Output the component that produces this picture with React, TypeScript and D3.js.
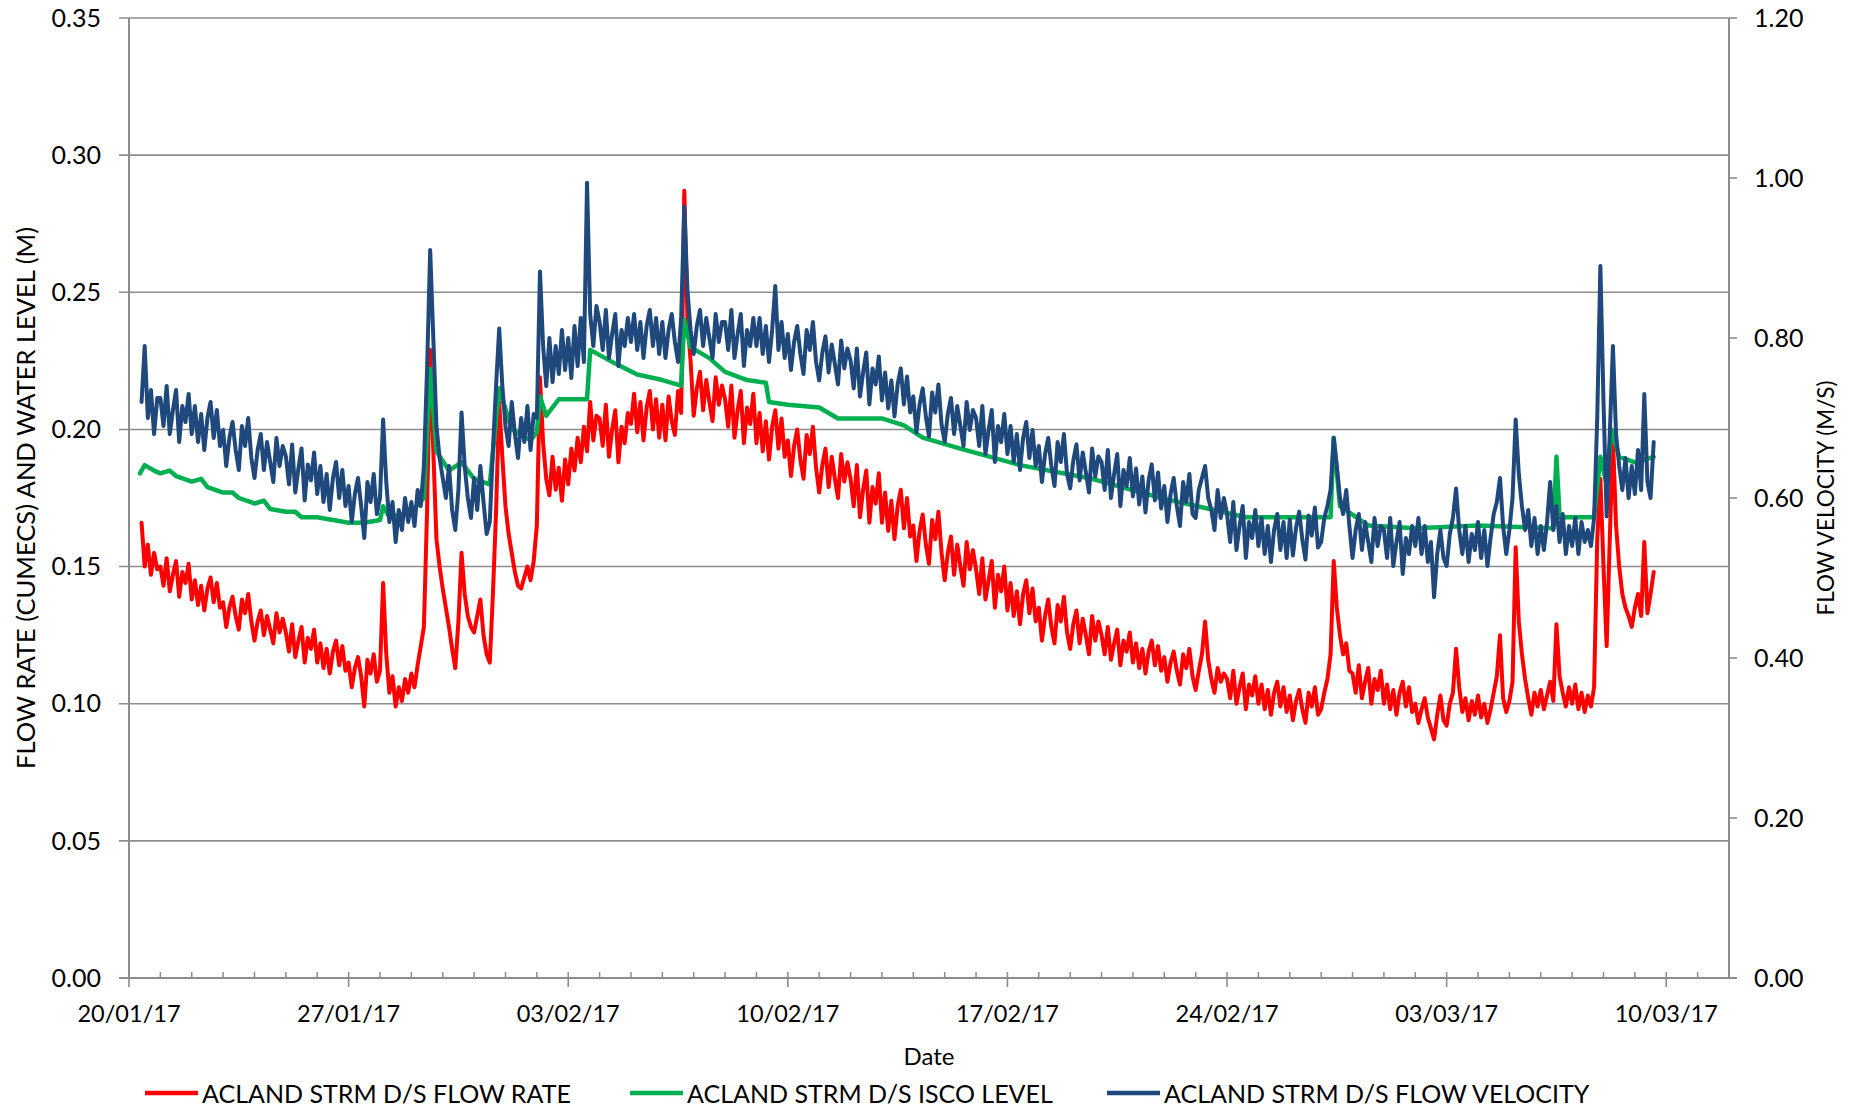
import React, { useEffect, useRef } from "react";
import * as d3 from "d3";

const width = 1853;
const height = 1108;
const DAY = 86400000;
const startDate = Date.UTC(2017, 0, 20);
const endDate = Date.UTC(2017, 2, 12);

const leftTicks = [0, 0.05, 0.1, 0.15, 0.2, 0.25, 0.3, 0.35];
const rightTicks = [0, 0.2, 0.4, 0.6, 0.8, 1.0, 1.2];
const majorTickDays = [0, 7, 14, 21, 28, 35, 42, 49];

const seriesNames = [
  "ACLAND STRM D/S FLOW RATE",
  "ACLAND STRM D/S ISCO LEVEL",
  "ACLAND STRM D/S FLOW VELOCITY",
];
const seriesColors = ["#ff0000", "#00b050", "#1f497d"];

// flow rate + velocity read every 0.1 day, first reading 0.4 day after 20/01/17
const sampleStart = 0.4;
const sampleStep = 0.1;

const flowRate = [
  0.166, 0.150, 0.158, 0.147, 0.155, 0.149,
  0.150, 0.143, 0.153, 0.141, 0.147, 0.152, 0.139, 0.148, 0.144, 0.151,
  0.138, 0.145, 0.136, 0.143, 0.134, 0.142, 0.146, 0.137, 0.144, 0.135,
  0.137, 0.128, 0.135, 0.139, 0.132, 0.127, 0.138, 0.133, 0.140, 0.130,
  0.123, 0.130, 0.134, 0.125, 0.132, 0.127, 0.122, 0.133, 0.126, 0.131,
  0.126, 0.119, 0.129, 0.117, 0.123, 0.128, 0.115, 0.124, 0.120, 0.127,
  0.115, 0.122, 0.113, 0.120, 0.111, 0.119, 0.123, 0.114, 0.121, 0.112,
  0.115, 0.106, 0.113, 0.117, 0.110, 0.099, 0.116, 0.111, 0.118, 0.108,
  0.112, 0.144, 0.118, 0.104, 0.110, 0.099, 0.106, 0.101, 0.109, 0.104,
  0.111, 0.106, 0.114, 0.121, 0.128, 0.170, 0.229, 0.192, 0.160, 0.150,
  0.142, 0.135, 0.128, 0.120, 0.113, 0.130, 0.155, 0.140, 0.132, 0.128,
  0.126, 0.132, 0.138, 0.125, 0.118, 0.115, 0.140, 0.170, 0.210, 0.190,
  0.172, 0.162, 0.155, 0.148, 0.143, 0.142, 0.146, 0.150, 0.145, 0.152,
  0.165, 0.219, 0.195, 0.182, 0.176, 0.190, 0.178, 0.186, 0.174, 0.189,
  0.180, 0.193, 0.185, 0.197, 0.188, 0.201, 0.192, 0.210, 0.196, 0.205,
  0.204, 0.194, 0.209, 0.190, 0.200, 0.207, 0.188, 0.201, 0.195, 0.206,
  0.202, 0.213, 0.199, 0.210, 0.196, 0.208, 0.214, 0.200, 0.211, 0.197,
  0.209, 0.196, 0.212, 0.203, 0.198, 0.214, 0.206, 0.287, 0.240, 0.225,
  0.205, 0.215, 0.221, 0.207, 0.218, 0.210, 0.203, 0.219, 0.209, 0.216,
  0.211, 0.201, 0.216, 0.197, 0.207, 0.214, 0.195, 0.208, 0.202, 0.213,
  0.195, 0.206, 0.192, 0.203, 0.189, 0.201, 0.207, 0.193, 0.204, 0.190,
  0.196, 0.183, 0.194, 0.200, 0.189, 0.182, 0.198, 0.191, 0.201, 0.186,
  0.177, 0.187, 0.193, 0.179, 0.190, 0.182, 0.175, 0.191, 0.181, 0.188,
  0.182, 0.172, 0.187, 0.168, 0.178, 0.185, 0.166, 0.179, 0.173, 0.184,
  0.166, 0.177, 0.163, 0.174, 0.160, 0.172, 0.178, 0.164, 0.175, 0.161,
  0.165, 0.152, 0.163, 0.169, 0.158, 0.151, 0.167, 0.160, 0.170, 0.155,
  0.145, 0.155, 0.161, 0.147, 0.158, 0.150, 0.143, 0.159, 0.149, 0.156,
  0.149, 0.140, 0.153, 0.138, 0.145, 0.152, 0.135, 0.147, 0.141, 0.150,
  0.134, 0.144, 0.132, 0.141, 0.129, 0.140, 0.145, 0.133, 0.142, 0.130,
  0.135, 0.123, 0.132, 0.138, 0.128, 0.122, 0.136, 0.130, 0.139, 0.126,
  0.120, 0.129, 0.134, 0.122, 0.131, 0.125, 0.118, 0.132, 0.123, 0.130,
  0.125, 0.118, 0.128, 0.116, 0.122, 0.127, 0.114, 0.123, 0.119, 0.126,
  0.115, 0.122, 0.113, 0.120, 0.111, 0.119, 0.123, 0.114, 0.121, 0.112,
  0.117, 0.108, 0.115, 0.119, 0.112, 0.107, 0.118, 0.113, 0.120, 0.110,
  0.105, 0.112, 0.118, 0.130, 0.116, 0.109, 0.104, 0.113, 0.108, 0.111,
  0.109, 0.102, 0.112, 0.100, 0.106, 0.111, 0.098, 0.107, 0.103, 0.110,
  0.100, 0.107, 0.098, 0.105, 0.096, 0.104, 0.108, 0.099, 0.106, 0.097,
  0.103, 0.094, 0.101, 0.105, 0.098, 0.093, 0.104, 0.099, 0.106, 0.096,
  0.098, 0.104, 0.109, 0.118, 0.152, 0.135, 0.125, 0.118, 0.122, 0.112,
  0.111, 0.104, 0.114, 0.102, 0.108, 0.113, 0.100, 0.109, 0.105, 0.112,
  0.100, 0.107, 0.098, 0.105, 0.096, 0.104, 0.108, 0.099, 0.106, 0.097,
  0.100, 0.093, 0.098, 0.102, 0.095, 0.091, 0.087, 0.096, 0.103, 0.094,
  0.092, 0.100, 0.104, 0.120, 0.106, 0.097, 0.102, 0.094, 0.101, 0.096,
  0.103, 0.095, 0.100, 0.093, 0.098, 0.104, 0.110, 0.125, 0.102, 0.097,
  0.101, 0.108, 0.157, 0.130, 0.118, 0.109, 0.102, 0.096, 0.104, 0.099,
  0.105, 0.098, 0.103, 0.108, 0.101, 0.129, 0.110, 0.104, 0.099, 0.106,
  0.100, 0.107, 0.098, 0.104, 0.097, 0.103, 0.099, 0.106, 0.160, 0.182,
  0.150, 0.121, 0.160, 0.197, 0.165, 0.150, 0.140, 0.135, 0.132, 0.128,
  0.135, 0.140, 0.132, 0.159, 0.133, 0.140, 0.148,
];

const flowVelocity = [
  0.720, 0.790, 0.700, 0.735, 0.680, 0.725,
  0.725, 0.690, 0.740, 0.680, 0.710, 0.735, 0.670, 0.715, 0.695, 0.730,
  0.680, 0.715, 0.670, 0.705, 0.660, 0.700, 0.720, 0.675, 0.710, 0.665,
  0.685, 0.640, 0.675, 0.695, 0.660, 0.635, 0.690, 0.665, 0.700, 0.650,
  0.625, 0.660, 0.680, 0.635, 0.670, 0.645, 0.620, 0.675, 0.640, 0.665,
  0.652, 0.617, 0.667, 0.607, 0.637, 0.662, 0.597, 0.642, 0.622, 0.657,
  0.605, 0.640, 0.595, 0.630, 0.585, 0.625, 0.645, 0.600, 0.635, 0.590,
  0.615, 0.570, 0.605, 0.625, 0.590, 0.550, 0.620, 0.595, 0.630, 0.580,
  0.600, 0.698, 0.620, 0.570, 0.595, 0.545, 0.585, 0.560, 0.600, 0.570,
  0.595, 0.565, 0.610, 0.590, 0.640, 0.760, 0.910, 0.800, 0.690, 0.650,
  0.625, 0.600, 0.640, 0.585, 0.560, 0.610, 0.707, 0.640, 0.600, 0.575,
  0.625, 0.585, 0.640, 0.595, 0.555, 0.570, 0.660, 0.740, 0.812, 0.740,
  0.690, 0.665, 0.720, 0.680, 0.650, 0.700, 0.670, 0.715, 0.660, 0.705,
  0.700, 0.883, 0.790, 0.740, 0.800, 0.745, 0.790, 0.755, 0.810, 0.760,
  0.800, 0.750, 0.815, 0.765, 0.825, 0.770, 0.994, 0.830, 0.790, 0.840,
  0.820, 0.785, 0.835, 0.775, 0.805, 0.830, 0.765, 0.810, 0.790, 0.825,
  0.795, 0.830, 0.785, 0.820, 0.775, 0.815, 0.835, 0.790, 0.825, 0.780,
  0.820, 0.775, 0.810, 0.830, 0.795, 0.770, 0.825, 0.964, 0.860, 0.810,
  0.780, 0.815, 0.835, 0.790, 0.825, 0.800, 0.775, 0.830, 0.795, 0.820,
  0.820, 0.785, 0.835, 0.775, 0.805, 0.830, 0.765, 0.810, 0.790, 0.825,
  0.790, 0.825, 0.780, 0.815, 0.770, 0.810, 0.865, 0.785, 0.820, 0.775,
  0.805, 0.760, 0.795, 0.815, 0.780, 0.755, 0.810, 0.785, 0.820, 0.770,
  0.747, 0.782, 0.802, 0.757, 0.792, 0.767, 0.742, 0.797, 0.762, 0.787,
  0.772, 0.737, 0.787, 0.727, 0.757, 0.782, 0.717, 0.762, 0.742, 0.777,
  0.722, 0.757, 0.712, 0.747, 0.702, 0.742, 0.762, 0.717, 0.752, 0.707,
  0.727, 0.682, 0.717, 0.737, 0.702, 0.677, 0.732, 0.707, 0.742, 0.692,
  0.670, 0.705, 0.725, 0.680, 0.715, 0.690, 0.665, 0.720, 0.685, 0.710,
  0.700, 0.665, 0.715, 0.655, 0.685, 0.710, 0.645, 0.690, 0.670, 0.705,
  0.655, 0.690, 0.645, 0.680, 0.635, 0.675, 0.695, 0.650, 0.685, 0.640,
  0.665, 0.620, 0.655, 0.675, 0.640, 0.615, 0.670, 0.645, 0.680, 0.630,
  0.612, 0.647, 0.667, 0.622, 0.657, 0.632, 0.607, 0.662, 0.627, 0.652,
  0.645, 0.610, 0.660, 0.600, 0.630, 0.655, 0.590, 0.635, 0.615, 0.650,
  0.602, 0.637, 0.592, 0.627, 0.582, 0.622, 0.642, 0.597, 0.632, 0.587,
  0.615, 0.570, 0.605, 0.625, 0.590, 0.565, 0.620, 0.595, 0.630, 0.580,
  0.575, 0.610, 0.625, 0.640, 0.600, 0.585, 0.560, 0.610, 0.575, 0.600,
  0.580, 0.545, 0.595, 0.535, 0.565, 0.590, 0.525, 0.570, 0.550, 0.585,
  0.540, 0.575, 0.530, 0.565, 0.520, 0.560, 0.580, 0.535, 0.570, 0.525,
  0.573, 0.528, 0.563, 0.583, 0.548, 0.523, 0.578, 0.553, 0.588, 0.538,
  0.545, 0.575, 0.590, 0.610, 0.675, 0.640, 0.600, 0.580, 0.610, 0.565,
  0.525, 0.560, 0.580, 0.535, 0.570, 0.545, 0.520, 0.575, 0.540, 0.565,
  0.560, 0.525, 0.575, 0.515, 0.545, 0.570, 0.505, 0.550, 0.530, 0.565,
  0.540, 0.575, 0.530, 0.565, 0.520, 0.545, 0.476, 0.530, 0.560, 0.525,
  0.515, 0.555, 0.575, 0.612, 0.560, 0.530, 0.565, 0.520, 0.555, 0.535,
  0.570, 0.525, 0.560, 0.515, 0.550, 0.580, 0.595, 0.625, 0.565, 0.530,
  0.560, 0.600, 0.698, 0.630, 0.590, 0.560, 0.585, 0.540, 0.575, 0.530,
  0.565, 0.535, 0.570, 0.620, 0.560, 0.590, 0.545, 0.580, 0.530, 0.565,
  0.540, 0.575, 0.530, 0.570, 0.545, 0.560, 0.540, 0.575, 0.700, 0.890,
  0.720, 0.577, 0.680, 0.790, 0.680, 0.640, 0.610, 0.650, 0.600, 0.640,
  0.605, 0.660, 0.610, 0.730, 0.620, 0.600, 0.670,
];

// water level: [day after 20/01/17, level]
const iscoLevel: [number, number][] = [
  [0.35, 0.184], [0.5, 0.187], [0.8, 0.185], [1, 0.184], [1.3, 0.185], [1.5, 0.183],
  [2, 0.181], [2.3, 0.182], [2.5, 0.179], [3, 0.177], [3.3, 0.177], [3.5, 0.175],
  [4, 0.173], [4.3, 0.174], [4.5, 0.171], [5, 0.170], [5.3, 0.170], [5.5, 0.168],
  [6, 0.168], [6.5, 0.167], [7, 0.166], [7.5, 0.166], [8, 0.167], [8.1, 0.172],
  [8.3, 0.168], [9, 0.170], [9.4, 0.175], [9.6, 0.222], [9.8, 0.192], [10.2, 0.185],
  [10.6, 0.188], [11, 0.182], [11.5, 0.180], [11.8, 0.215], [12.2, 0.200], [12.8, 0.196],
  [13.0, 0.199], [13.1, 0.212], [13.3, 0.205], [13.7, 0.211], [14.6, 0.211], [14.7, 0.229],
  [15.5, 0.224], [16.2, 0.220], [17, 0.218], [17.6, 0.216], [17.7, 0.240], [17.9, 0.230],
  [18.5, 0.226], [19, 0.221], [19.7, 0.218], [20.3, 0.217], [20.4, 0.210], [21, 0.209],
  [22, 0.208], [22.6, 0.204], [24, 0.204], [24.7, 0.2015], [25.3, 0.197], [26.5, 0.193],
  [28.4, 0.187], [30.7, 0.182], [32.9, 0.175], [35.6, 0.168], [38.3, 0.168], [38.4, 0.197],
  [38.6, 0.172], [39.5, 0.165], [41, 0.164], [43, 0.165], [45.4, 0.164], [45.5, 0.190],
  [45.6, 0.168], [46.7, 0.168], [46.9, 0.190], [47.1, 0.180], [47.25, 0.200], [47.5, 0.190],
  [48, 0.188], [48.6, 0.190],
];

const font = "Lato, 'Open Sans', sans-serif";

export default function App() {
  const svgRef = useRef<SVGSVGElement>(null);

  useEffect(() => {
    if (!svgRef.current) return;
    const svg = d3.select(svgRef.current);
    svg.selectAll("*").remove();

    const left = 129, right = 1729, top = 18, bottom = 978;
    const x = d3.scaleUtc().domain([new Date(startDate), new Date(endDate)]).range([left, right]);
    const yL = d3.scaleLinear().domain([0, 0.35]).range([bottom, top]);
    const yR = d3.scaleLinear().domain([0, 1.2]).range([bottom, top]);
    const dayToDate = (d: number) => new Date(startDate + d * DAY);
    const grey = "#8c8c8c";

    // gridlines + left ticks
    svg.append("g").selectAll("line")
      .data(leftTicks.slice(1))
      .join("line")
      .attr("x1", left - 10).attr("x2", right)
      .attr("y1", d => yL(d)).attr("y2", d => yL(d))
      .attr("stroke", grey).attr("stroke-width", 1.6);

    svg.append("g").selectAll("text")
      .data(leftTicks)
      .join("text")
      .attr("x", left - 28).attr("y", d => yL(d)).attr("dy", "0.35em")
      .attr("text-anchor", "end")
      .style("font", `25px ${font}`)
      .text(d => d3.format(".2f")(d));

    // right ticks
    svg.append("g").selectAll("line")
      .data(rightTicks)
      .join("line")
      .attr("x1", right).attr("x2", right + 8)
      .attr("y1", d => yR(d)).attr("y2", d => yR(d))
      .attr("stroke", grey).attr("stroke-width", 1.6);

    svg.append("g").selectAll("text")
      .data(rightTicks)
      .join("text")
      .attr("x", right + 25).attr("y", d => yR(d)).attr("dy", "0.35em")
      .style("font", `25px ${font}`)
      .text(d => d3.format(".2f")(d));

    // axis lines
    svg.append("line").attr("x1", left).attr("x2", left).attr("y1", top).attr("y2", bottom)
      .attr("stroke", grey).attr("stroke-width", 2);
    svg.append("line").attr("x1", right).attr("x2", right).attr("y1", top).attr("y2", bottom)
      .attr("stroke", grey).attr("stroke-width", 2);
    svg.append("line").attr("x1", left - 10).attr("x2", right + 8).attr("y1", bottom).attr("y2", bottom)
      .attr("stroke", grey).attr("stroke-width", 2);

    // x ticks: daily minor inside, weekly major outside
    svg.append("g").selectAll("line")
      .data(d3.range(1, 51))
      .join("line")
      .attr("x1", d => x(dayToDate(d))).attr("x2", d => x(dayToDate(d)))
      .attr("y1", bottom - 6).attr("y2", bottom)
      .attr("stroke", grey).attr("stroke-width", 1.5);
    svg.append("g").selectAll("line")
      .data(majorTickDays)
      .join("line")
      .attr("x1", d => x(dayToDate(d))).attr("x2", d => x(dayToDate(d)))
      .attr("y1", bottom).attr("y2", bottom + 9)
      .attr("stroke", grey).attr("stroke-width", 1.6);
    svg.append("g").selectAll("text")
      .data(majorTickDays)
      .join("text")
      .attr("x", d => x(dayToDate(d))).attr("y", 1022)
      .attr("text-anchor", "middle")
      .style("font", `23.5px ${font}`)
      .text(d => d3.utcFormat("%d/%m/%y")(dayToDate(d)));

    // series
    const redPts = flowRate.map((v, i) => [dayToDate(sampleStart + i * sampleStep), v] as [Date, number]);
    const bluePts = flowVelocity.map((v, i) => [dayToDate(sampleStart + i * sampleStep), v] as [Date, number]);
    const greenPts = iscoLevel.map(([d, v]) => [dayToDate(d), v] as [Date, number]);

    const lineL = d3.line<[Date, number]>().x(d => x(d[0])).y(d => yL(d[1]));
    const lineR = d3.line<[Date, number]>().x(d => x(d[0])).y(d => yR(d[1]));

    const drawLine = (path: string | null, color: string, w: number) =>
      svg.append("path")
        .attr("d", path)
        .attr("fill", "none")
        .attr("stroke", color)
        .attr("stroke-width", w)
        .attr("stroke-linejoin", "round")
        .attr("stroke-linecap", "round");

    drawLine(lineL(redPts), seriesColors[0], 4);
    drawLine(lineL(greenPts), seriesColors[1], 4.5);
    drawLine(lineR(bluePts), seriesColors[2], 4);

    // axis titles
    svg.append("text")
      .attr("transform", `translate(35,${(top + bottom) / 2}) rotate(-90)`)
      .attr("text-anchor", "middle")
      .style("font", `25.5px ${font}`)
      .text("FLOW RATE (CUMECS) AND WATER LEVEL (M)");
    svg.append("text")
      .attr("transform", `translate(1834,${(top + bottom) / 2}) rotate(-90)`)
      .attr("text-anchor", "middle")
      .style("font", `22.5px ${font}`)
      .text("FLOW VELOCITY (M/S)");
    svg.append("text")
      .attr("x", (left + right) / 2).attr("y", 1065)
      .attr("text-anchor", "middle")
      .style("font", `24px ${font}`)
      .text("Date");

    // legend
    const legendX = [145, 630, 1107];
    const lg = svg.append("g").selectAll("g")
      .data(seriesNames)
      .join("g")
      .attr("transform", (d, i) => `translate(${legendX[i]},1093)`);
    lg.append("line")
      .attr("x1", 0).attr("x2", 53).attr("y1", 0).attr("y2", 0)
      .attr("stroke", (d, i) => seriesColors[i]).attr("stroke-width", 4.5);
    lg.append("text")
      .attr("x", 57).attr("y", 10)
      .style("font", `25px ${font}`)
      .text(d => d);
  }, [svgRef]);

  return (
    <svg
      ref={svgRef}
      width={width}
      height={height}
      style={{ position: "absolute", left: 0, top: 0, background: "#fff" }}
    />
  );
}
